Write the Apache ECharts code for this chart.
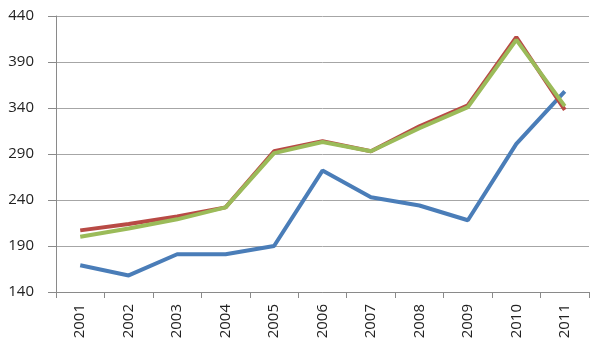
<!DOCTYPE html>
<html>
<head>
<meta charset="utf-8">
<script src="https://cdn.jsdelivr.net/npm/echarts@6/dist/echarts.min.js"></script>
<style>html,body{margin:0;padding:0;background:#fff}#c{width:600px;height:356px}</style>
</head>
<body>
<div id="c"></div>
<script>
var categories = ['2001','2002','2003','2004','2005','2006','2007','2008','2009','2010','2011'];
var blueSeries  = [169, 158, 181, 181, 190, 272, 243, 234, 218, 301, 358];
var redSeries   = [207, 214, 222, 232, 293, 304, 293, 320, 343, 417, 338];
var greenSeries = [200, 209, 219, 232, 291, 303, 293, 318, 341, 414, 342];
var yMin = 140, yMax = 440, yStep = 50;

var chart = echarts.init(document.getElementById('c'), null, {renderer:'canvas'});
var font = "'Open Sans', sans-serif";
function line(data, color){
  return {type:'line', data:data, symbol:'none', smooth:false,
    lineStyle:{color:color, width:4}, itemStyle:{color:color}, animation:false};
}
chart.setOption({
  animation:false,
  grid:{left:56, right:11, top:16, bottom:64, containLabel:false},
  xAxis:{type:'category', data:categories, boundaryGap:true,
    axisLine:{lineStyle:{color:'#8a8a8a', width:1}},
    axisTick:{show:true, length:6, alignWithLabel:false, lineStyle:{color:'#8a8a8a'}},
    axisLabel:{rotate:90, margin:12, color:'#222', fontSize:15, fontFamily:font, interval:0},
    splitLine:{show:false}},
  yAxis:{type:'value', min:yMin, max:yMax, interval:yStep,
    axisLine:{show:true, lineStyle:{color:'#8a8a8a', width:1}},
    axisTick:{show:true, length:8, lineStyle:{color:'#8a8a8a'}},
    axisLabel:{margin:22, color:'#222', fontSize:15, fontFamily:font},
    splitLine:{show:true, lineStyle:{color:'#a6a6a6', width:1}}},
  series:[line(blueSeries,'#4a7db8'), line(redSeries,'#b84a45'), line(greenSeries,'#9bbb59')]
});
</script>
</body>
</html>
